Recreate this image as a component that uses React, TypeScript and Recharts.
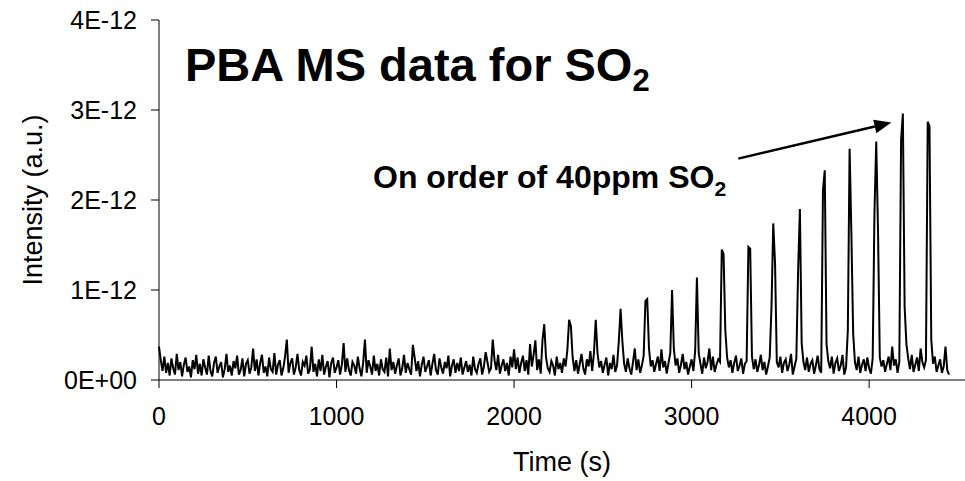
import React from "react";
import { LineChart, Line, XAxis, YAxis, ReferenceLine } from "recharts";

// intensity in units of 1E-13, sampled every 10 s
const STEP = 10;

const seg0000 = [
  3.7, 2.2, 1.0, 2.6, 0.8, 1.9, 0.5, 2.4, 1.3, 0.6,
  2.9, 1.1, 2.0, 0.4, 1.7, 2.5, 0.9, 1.5, 0.3, 2.2,
  1.2, 2.8, 0.7, 1.8, 0.5, 2.3, 1.4, 0.6, 2.7, 1.0,
  0.4, 1.9, 2.6, 0.8, 1.5, 2.0, 0.3, 1.2, 2.9, 0.9,
  1.6, 0.5, 2.1, 1.3, 2.7, 0.6, 1.1, 2.4, 0.4, 1.8,
  2.2, 0.7, 1.4, 3.5, 1.0, 2.3, 0.5, 1.9, 2.8, 0.8,
  1.5, 0.4, 2.5, 1.2, 0.9, 3.0, 0.6, 1.7, 2.2, 0.5,
  1.3, 2.6, 4.5, 0.8, 1.9, 2.4, 0.6, 1.4, 2.9, 1.1,
  0.5, 2.0, 1.6, 2.7, 0.7, 1.2, 3.7, 0.9, 1.8, 0.4,
  2.3, 1.0, 2.8, 0.6, 1.5, 2.1, 0.3, 1.9, 2.5, 0.8,
];

const seg1000 = [
  1.4, 2.2, 0.6, 1.7, 4.1, 0.9, 2.4, 1.1, 0.5, 2.0,
  1.6, 0.7, 2.6, 1.3, 0.4, 1.9, 4.5, 0.8, 2.2, 1.5,
  0.6, 2.7, 1.0, 1.8, 0.5, 2.3, 1.2, 0.9, 2.5, 0.4,
  3.5, 1.1, 2.0, 0.7, 1.6, 2.4, 0.5, 1.3, 2.8, 0.8,
  1.9, 1.2, 0.6, 3.9, 2.5, 1.0, 2.1, 0.4, 1.7, 2.6,
  0.9, 1.5, 2.2, 0.5, 1.8, 2.9, 1.1, 0.6, 2.4, 1.4,
  0.7, 2.0, 1.3, 2.7, 0.4, 1.6, 2.3, 0.8, 1.9, 1.0,
  2.5, 0.6, 1.4, 2.1, 0.9, 1.7, 0.5, 2.6, 1.2, 0.8,
  1.8, 2.4, 0.6, 1.5, 3.1, 2.0, 0.9, 1.3, 4.5, 2.2,
  1.1, 2.8, 0.7, 1.6, 2.3, 1.0, 1.9, 0.5, 2.6, 1.4,
];

const seg2000 = [
  3.4, 1.2, 2.5, 0.8, 1.9, 2.7, 1.0, 2.2, 0.6, 4.0,
  1.5, 2.8, 4.4, 1.1, 2.3, 0.7, 4.4, 6.2, 2.5, 1.3,
  0.9, 2.1, 1.6, 0.5, 2.6, 1.2, 1.9, 0.8, 2.4, 1.5,
  3.3, 6.7, 6.0, 2.5, 1.0, 2.2, 0.7, 1.8, 2.9, 1.3,
  0.6, 2.3, 1.5, 3.2, 1.0, 3.0, 6.7, 3.0, 1.4, 2.1,
  0.8, 1.7, 2.5, 0.5, 1.9, 1.2, 2.8, 0.9, 1.6, 4.3,
  7.9, 4.3, 1.8, 0.9, 2.4, 1.3, 0.6, 2.0, 3.5, 1.1,
  2.3, 0.8, 1.6, 2.7, 8.8, 9.0, 3.5, 1.5, 2.2, 0.9,
  1.8, 2.6, 1.0, 3.4, 1.4, 2.1, 0.7, 1.9, 3.0, 10.0,
  3.5, 1.6, 2.4, 0.8, 1.7, 2.9, 1.2, 2.0, 0.6, 1.5,
];

const seg3000 = [
  2.3, 1.0, 3.2, 11.4, 3.0, 1.8, 0.7, 2.5, 1.3, 2.0,
  3.5, 1.1, 2.6, 0.9, 1.7, 2.3, 2.0, 14.5, 14.0, 5.5,
  2.5, 1.4, 2.2, 0.8, 1.9, 2.7, 1.0, 1.6, 2.4, 0.7,
  1.8, 2.1, 14.8, 14.6, 2.6, 1.2, 2.3, 0.9, 1.7, 2.8,
  1.1, 2.0, 0.6, 1.5, 2.5, 8.1, 17.4, 13.0, 2.0, 1.4,
  2.6, 0.8, 1.9, 2.3, 1.0, 1.7, 2.9, 0.6, 1.5, 2.4,
  12.2, 19.0, 4.1, 2.0, 1.1, 2.5, 0.9, 1.8, 2.2, 0.7,
  1.6, 2.7, 1.2, 0.8, 21.1, 23.3, 4.0, 2.1, 1.3, 2.6,
  0.7, 1.9, 2.4, 1.0, 1.6, 2.8, 0.6, 1.4, 5.5, 25.7,
  16.3, 5.2, 2.0, 1.1, 2.6, 0.8, 1.7, 2.3, 1.0, 2.5,
];

const seg4000 = [
  1.3, 0.7, 2.4, 18.5, 26.5, 16.7, 2.5, 1.5, 2.2, 0.9,
  1.8, 2.6, 1.1, 3.7, 1.6, 2.3, 0.8, 2.0, 26.7, 29.6,
  8.1, 4.0, 2.4, 1.2, 2.8, 0.9, 1.7, 2.5, 1.0, 3.5,
  2.0, 1.4, 2.2, 28.7, 28.2, 4.5, 1.8, 2.6, 0.9, 1.6,
  2.3, 0.8, 1.5, 3.7, 1.1, 0.6,
];

const xTicks = [0, 1000, 2000, 3000, 4000];
const yTicks = [0, 10, 20, 30, 40];
const yTickLabels = ["0E+00", "1E-12", "2E-12", "3E-12", "4E-12"];

const intensity = [...seg0000, ...seg1000, ...seg2000, ...seg3000, ...seg4000];
const data = intensity.map((value, i) => ({ time: i * STEP, value }));

const FONT = "'Liberation Sans', Arial, sans-serif";

const ArrowShape = (props: any) => {
  const { x1, y1, x2, y2 } = props;
  if ([x1, y1, x2, y2].some((v) => typeof v !== "number")) return null;
  const ang = Math.atan2(y2 - y1, x2 - x1);
  const len = 17;
  const half = 7;
  const bx = x2 - len * Math.cos(ang);
  const by = y2 - len * Math.sin(ang);
  const px = -Math.sin(ang) * half;
  const py = Math.cos(ang) * half;
  return (
    <g>
      <line x1={x1} y1={y1} x2={bx} y2={by} stroke="#000" strokeWidth={2.5} />
      <polygon
        points={`${x2},${y2} ${bx + px},${by + py} ${bx - px},${by - py}`}
        fill="#000"
      />
    </g>
  );
};

export default function App() {
  return (
    <div style={{ position: "absolute", left: 0, top: 0, width: 965, height: 481, background: "#fff" }}>
      <LineChart
        width={965}
        height={481}
        data={data}
        margin={{ top: 20, right: 0, left: 0, bottom: 0 }}
      >
        <XAxis
          dataKey="time"
          type="number"
          domain={[0, 4540]}
          ticks={xTicks}
          height={101}
          tickSize={8}
          tickMargin={19}
          axisLine={{ stroke: "#000" }}
          tickLine={{ stroke: "#000" }}
          tick={{ fill: "#000", fontSize: 25, fontFamily: FONT }}
        />
        <YAxis
          type="number"
          domain={[0, 40]}
          ticks={yTicks}
          width={159}
          tickSize={8}
          tickMargin={14}
          axisLine={{ stroke: "#000" }}
          tickLine={{ stroke: "#000" }}
          tick={{ fill: "#000", fontSize: 25, fontFamily: FONT }}
          tickFormatter={(v: number) => yTickLabels[yTicks.indexOf(v)] ?? ""}
        />
        <ReferenceLine
          segment={[
            { x: 3263, y: 24.6 },
            { x: 4125, y: 28.6 },
          ]}
          shape={ArrowShape}
        />
        <Line
          type="linear"
          dataKey="value"
          stroke="#000"
          strokeWidth={2}
          dot={false}
          isAnimationActive={false}
        />
      </LineChart>
      <svg
        width={965}
        height={481}
        style={{ position: "absolute", left: 0, top: 0, pointerEvents: "none" }}
        fontFamily={FONT}
      >
        <text x={185} y={81} fontSize={47} fontWeight="bold" fill="#000">
          PBA MS data for SO
          <tspan fontSize={31} dy={10}>2</tspan>
        </text>
        <text x={373} y={188} fontSize={32} fontWeight="bold" fill="#000">
          On order of 40ppm SO
          <tspan fontSize={21} dy={8}>2</tspan>
        </text>
        <text x={562} y={471} fontSize={27} textAnchor="middle" fill="#000">
          Time (s)
        </text>
        <text
          x={0}
          y={0}
          fontSize={27}
          textAnchor="middle"
          fill="#000"
          transform="translate(42, 200) rotate(-90)"
        >
          Intensity (a.u.)
        </text>
      </svg>
    </div>
  );
}
